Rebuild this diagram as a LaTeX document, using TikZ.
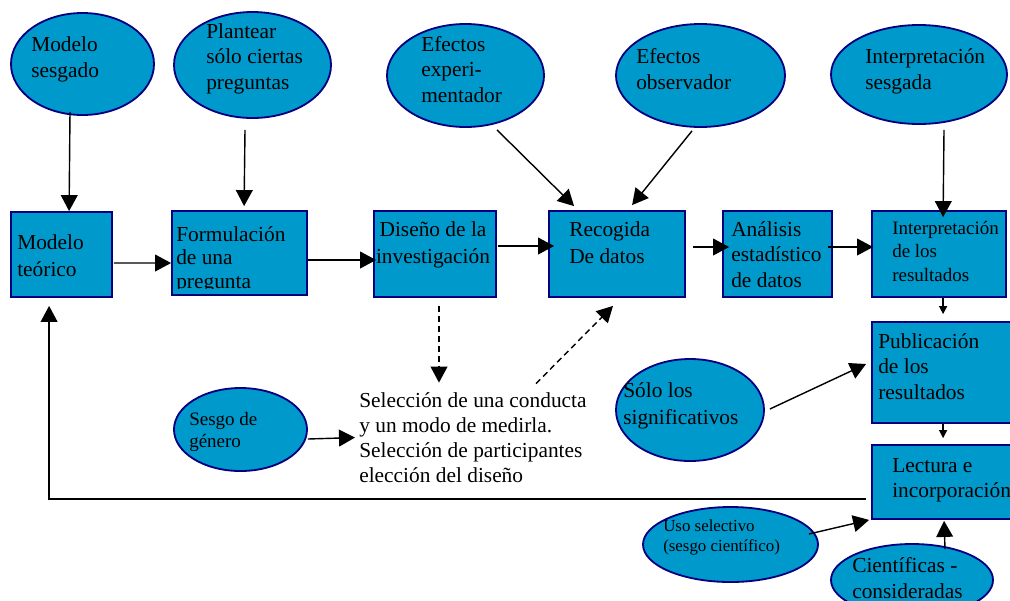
\documentclass[tikz,border=0pt]{standalone}
\usepackage{fontspec}
\setmainfont{Liberation Serif}
\usetikzlibrary{shapes.geometric,arrows.meta,calc}
\definecolor{bubblefill}{HTML}{0099CC}
\definecolor{edgenavy}{HTML}{000080}
\tikzset{
  dims/.style 2 args={minimum width=#1*0.025cm, minimum height=#2*0.025cm},
  bubble/.style={ellipse, draw=edgenavy, fill=bubblefill, line width=1.3pt, inner sep=0pt},
  stage/.style={rectangle, draw=edgenavy, fill=bubblefill, line width=1.3pt, inner sep=0pt},
  txt/.style={anchor=base west, align=left, inner sep=0pt, font=\fontsize{15.2}{#1}\selectfont},
  txt/.default=17.8,
  arr/.style={-{Triangle[length=0.4cm,width=0.42cm]}, line width=1pt},
  tinyarr/.style={-{Triangle[length=0.2cm,width=0.2cm]}, line width=1pt},
  dasharr/.style={arr, dash pattern=on 0.15cm off 0.1cm},
}
\begin{document}
\begin{tikzpicture}[x=0.025cm, y=-0.025cm]
\useasboundingbox (0,0) rectangle (1010,600);
% ellipses
\node[bubble, dims={143}{102}] (msesg) at (82.5,64) {};
\node[bubble, dims={157}{106}] (plant) at (252.5,65) {};
\node[bubble, dims={157}{103}] (efexp) at (465.5,75.5) {};
\node[bubble, dims={169}{103}] (efobs) at (700.5,75.5) {};
\node[bubble, dims={176}{99}] (intsg) at (919,74.5) {};
\node[bubble, dims={133}{83}] (sesgo) at (240.5,429.5) {};
\node[bubble, dims={148}{102}] (solo) at (690,410) {};
\node[bubble, dims={175}{75}] (uso) at (730.5,544.5) {};
\node[bubble, dims={162}{72}] (cient) at (912,580) {};
% boxes
\node[stage, dims={101}{85}] (mteo) at (61.5,254.5) {};
\node[stage, dims={135}{84}] (form) at (239.5,253) {};
\node[stage, dims={122}{86}] (dise) at (435,254) {};
\node[stage, dims={136}{86}] (recog) at (617,254) {};
\node[stage, dims={109}{86}] (anal) at (777.5,254) {};
\node[stage, dims={134}{86}] (interp) at (939,254) {};
\node[stage, dims={142}{101}] (publ) at (943,372.5) {};
\node[stage, dims={142}{74}] (lect) at (943,482) {};
% texts (placed at the baseline of their last line)
\node[txt] (msesg-t) at (31,77) {Modelo\\sesgado};
\node[txt] (plant-t) at (206,89) {Plantear\\sólo ciertas\\preguntas};
\node[txt] (efexp-t) at (421,102) {Efectos\\experi-\\mentador};
\node[txt] (efobs-t) at (636,89) {Efectos\\observador};
\node[txt] (intsg-t) at (865,89) {Interpretación\\sesgada};
\node[txt=18.5] (mteo-t) at (17,276) {Modelo\\teórico};
\begin{scope}
  \clip (form.north west) rectangle ($(form.south east)+(0,-7)$);
  \node[txt=16.4] (form-t) at (176,288) {Formulación\\de una\\pregunta};
\end{scope}
\node[txt=18.5, anchor=base, align=center] (dise-t) at (433,263) {Diseño de la\\investigación};
\node[txt=18.5] (recog-t) at (569,263) {Recogida\\De datos};
\node[txt] (anal-t) at (731,287) {Análisis\\estadístico\\de datos};
\node[txt, font=\fontsize{13.5}{16.4}\selectfont] (interp-t) at (892,281) {Interpretación\\de los\\resultados};
\node[txt] (publ-t) at (878,399) {Publicación\\de los\\resultados};
\node[txt=17.1] (lect-t) at (892,497) {Lectura e\\incorporación};
\node[txt, font=\fontsize{13.5}{15.6}\selectfont] (sesgo-t) at (189,447) {Sesgo de\\género};
\node[txt=18.5] (solo-t) at (623,424) {Sólo los\\significativos};
\node[txt, font=\fontsize{12}{14.2}\selectfont] (uso-t) at (663,551) {Uso selectivo\\(sesgo científico)};
\node[txt=18.5] (cient-t) at (852,598) {Científicas -\\consideradas};
\node[txt=17.6] (sel-t) at (359,482) {Selección de una conducta\\y un modo de medirla.\\Selección de participantes\\elección del diseño};
% arrows
\draw[arr] ($(msesg.south)+(-12.5,-4)$) -- ($(mteo.north west)+(59,0)$);
\draw[arr] ($(plant.south)+(-7.5,11)$) -- ($(form.north west)+(73,-4)$);
\draw[arr] ($(efexp.south)+(31.5,2)$) -- ($(recog.north west)+(26,-4)$);
\draw[arr] ($(efobs.south)+(-8.5,3)$) -- ($(recog.north west)+(84,-5)$);
\draw[arr] ($(intsg.south)+(25,5)$) -- ($(interp.north west)+(72,7)$);
\draw[arr] ($(mteo.east)+(1,8.5)$) -- ($(form.west)+(0,10)$);
\draw[arr] ($(form.east)+(0,7)$) -- ($(dise.west)+(3,6)$);
\draw[arr] ($(dise.east)+(1,-8)$) -- ($(recog.west)+(6,-8)$);
\draw[arr] ($(recog.east)+(7,-7)$) -- ($(anal.west)+(7,-7)$);
\draw[arr] ($(anal.east)+(-5,-7)$) -- ($(interp.west)+(2,-7)$);
\draw[tinyarr] ($(interp.south west)+(72,0)$) -- ($(publ.north west)+(72,-7)$);
\draw[tinyarr] ($(publ.south west)+(72,0)$) -- ($(lect.north west)+(72,-6)$);
\draw[arr] ($(lect.west)+(-5,17)$) -| ($(mteo.south west)+(39,8)$);
\draw[arr] ($(sesgo.east)+(0,9.5)$) -- ($(sel-t.west)+(-4,0)$);
\draw[dasharr] ($(dise.south)+(4,8)$) -- ($(dise.south |- sel-t.north)+(4,-10)$);
\draw[dasharr] ($(sel-t.north west)+(177,-9)$) -- ($(recog.south)+(-4,8)$);
\draw[arr] ($(solo.east)+(5,-1)$) -- ($(publ.west)+(-5,-8.5)$);
\draw[arr] ($(uso.east)+(-10,-10.5)$) -- ($(lect.south west)+(-2,0)$);
\draw[arr] ($(cient.north)+(33,6)$) -- ($(lect.south west)+(73,1)$);
\end{tikzpicture}
\end{document}
